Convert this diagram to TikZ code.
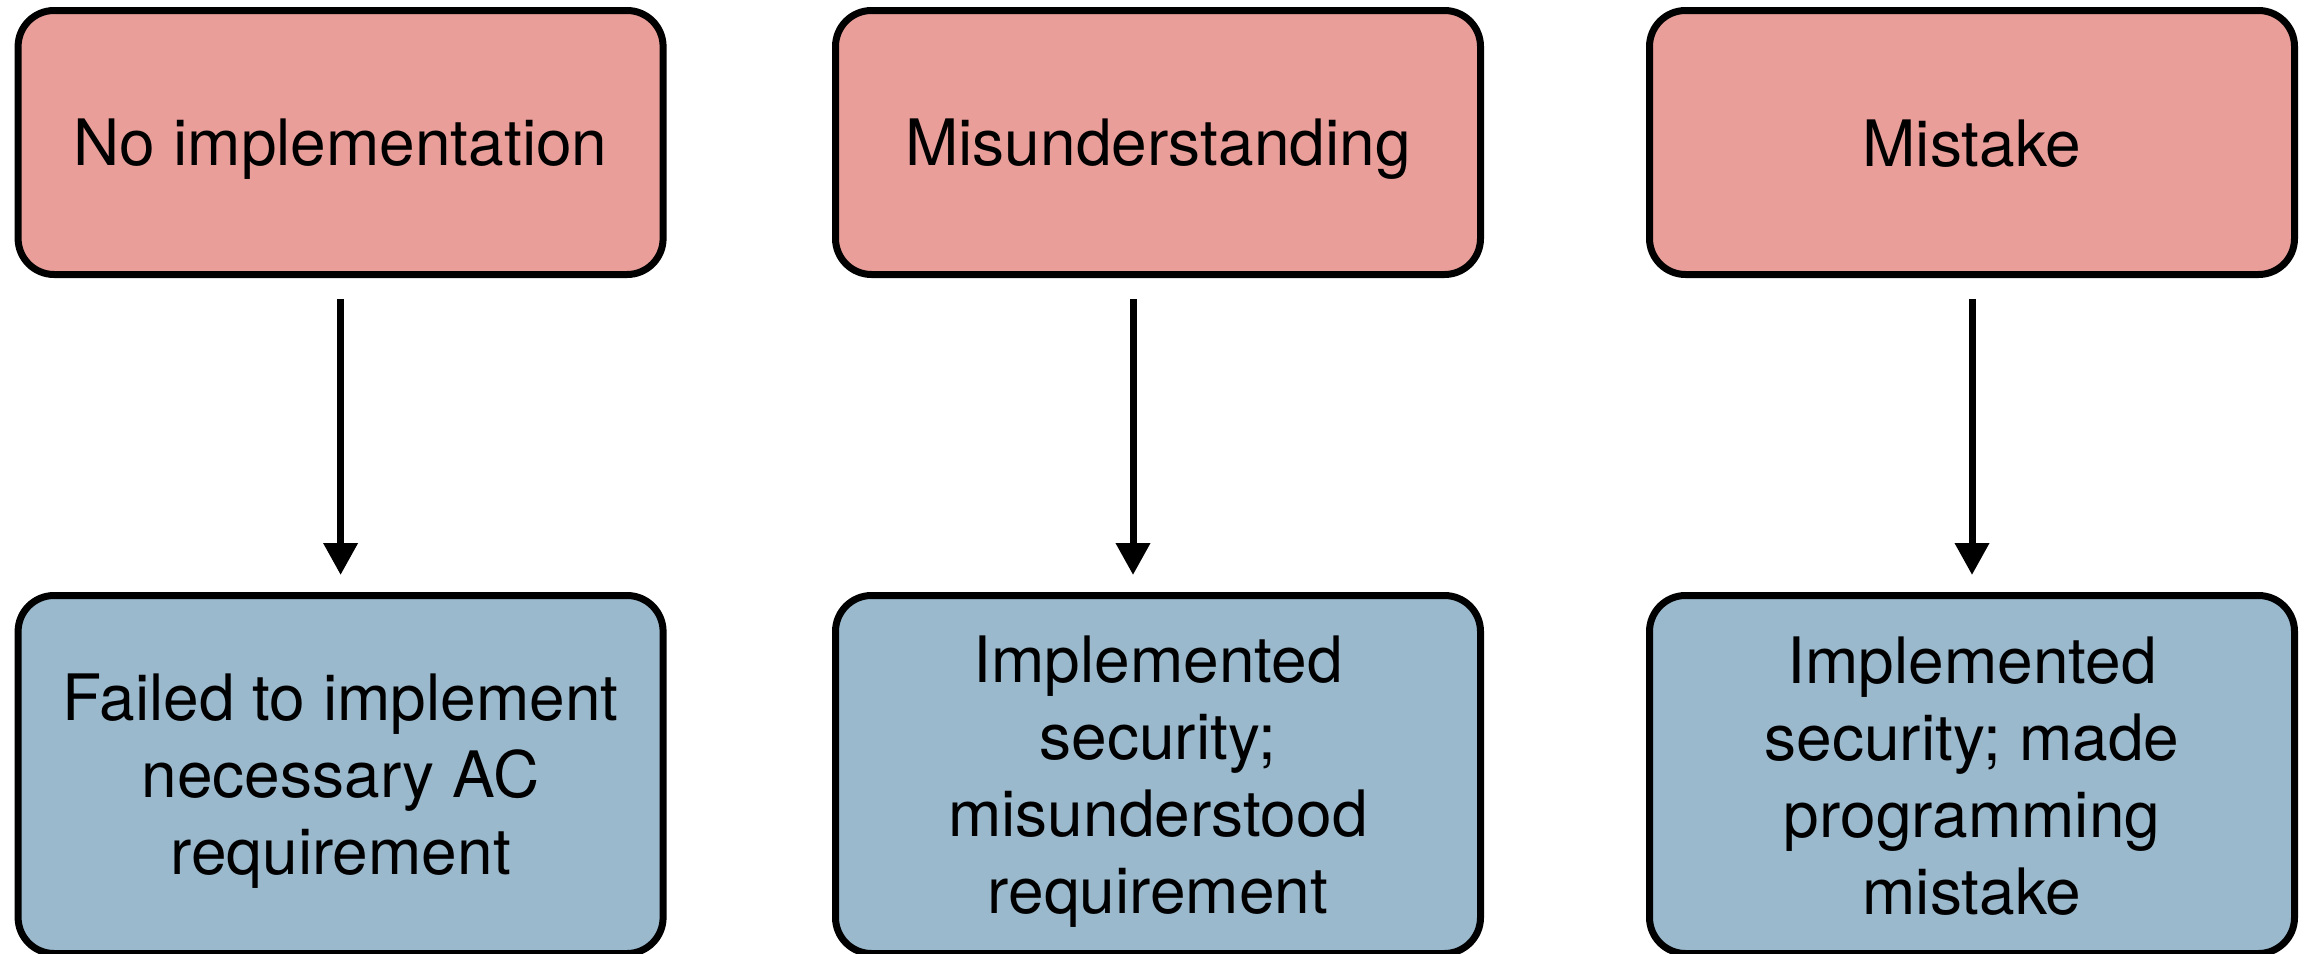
\documentclass[tikz,border=0pt]{standalone}
\usepackage{fontspec}
\setmainfont{TeX Gyre Heros}
\usetikzlibrary{arrows.meta}
\definecolor{causefill}{RGB}{233,158,153}
\definecolor{effectfill}{RGB}{154,185,205}
% fixed line height and depth, so every box sets its lines on the same grid
\newcommand\tstrut{\rule[-5.7pt]{0pt}{35.7pt}}
\begin{document}
\begin{tikzpicture}[x=1pt,y=1pt,
  box/.style={draw=black, line width=3.5pt, rounded corners=18pt,
    minimum width=322.5pt, align=center, inner sep=0pt,
    font=\fontsize{32}{38.5}\selectfont},
  cause/.style={box, fill=causefill, minimum height=132pt},
  effect/.style={box, fill=effectfill, minimum height=179pt},
  flow/.style={line width=3.5pt, -{Triangle[length=16pt,width=16.5pt]},
    shorten <=10.5pt, shorten >=8.5pt}]
\useasboundingbox (0,0) rectangle (1156,-476.5);

% causes (top row)
\node[cause] (c1) at (170.3,-71.25) {\tstrut No implementation};
\node[cause] (c2) at (579,-71.25) {\tstrut Misunderstanding};
\node[cause] (c3) at (986,-71.25) {\tstrut Mistake};

% outcomes (bottom row)
\node[effect] (e1) at (170.3,-387.25)
  {\tstrut Failed to implement\\\tstrut necessary AC\\\tstrut requirement};
\node[effect] (e2) at (579,-387.25)
  {\tstrut Implemented\\\tstrut security;\\\tstrut misunderstood\\\tstrut requirement};
\node[effect] (e3) at (986,-387.25)
  {\tstrut Implemented\\\tstrut security; made\\\tstrut programming\\\tstrut mistake};

% connectors
\draw[flow] (c1.south) -- (e1.north);
\draw[flow] ([xshift=-12.5pt]c2.south) -- ([xshift=-12.5pt]e2.north);
\draw[flow] (c3.south) -- (e3.north);
\end{tikzpicture}
\end{document}
